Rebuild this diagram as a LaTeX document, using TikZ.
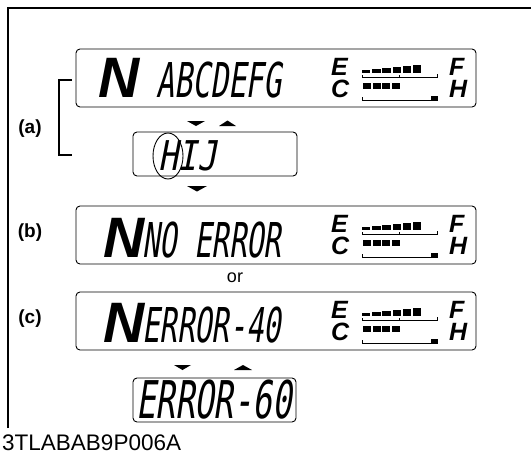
\documentclass[tikz,border=0pt]{standalone}
\usepackage{graphicx}
\usepackage{fontspec}
\usetikzlibrary{shapes.geometric}
\setmainfont{Liberation Sans}
\newfontfamily\lcdf[FakeSlant=0.24]{DejaVu Sans Mono}
\newcommand\lcdtxt[3]{\scalebox{#2}[1]{\fontsize{#1}{#1}\selectfont\lcdf #3}}
\newcommand\bigNf{\fontsize{57}{57}\selectfont\bfseries\itshape}
\tikzset{
  lcdbox/.style={draw, rounded corners=4pt, line width=0.9pt, inner sep=0pt},
  gl/.style={font=\fontsize{25}{25}\selectfont\bfseries\itshape, inner sep=0pt, anchor=base west},
  lcd/.style={inner sep=0pt, anchor=base west, text depth=0pt},
  lab/.style={font=\fontsize{19}{19}\selectfont\bfseries, inner sep=0pt},
  tri/.style={fill=black},
}
\newcommand\gaugepanel[2]{%
\begin{scope}[shift={(0,#1)}]
  \node[gl] (EC#2) at (331,97.5) {\shortstack[l]{E\\[1.5pt]C}};
  \node[gl] (FH#2) at (449,97.5) {\shortstack[l]{F\\[1.5pt]H}};
  \foreach \i in {0,...,5} \fill ({362+\i*10.2},73) rectangle ({370.3+\i*10.2},{69.5-\i*1.0});
  \draw[line width=1pt] (362,75)--(362,77.5)--(437,77.5)--(437,74);
  \draw[line width=1pt] (399,77.5)--(399,75);
  \foreach \i in {0,...,3} \fill ({363+\i*9.5},83) rectangle ({371+\i*9.5},89);
  \draw[line width=1pt] (362,97)--(362,100)--(437,100);
  \fill (431,96) rectangle (438,100.5);
\end{scope}}
\begin{document}
\begin{tikzpicture}[x=1pt,y=-1pt]
\useasboundingbox (0,0) rectangle (531,456);
% frame
\draw[line width=2pt] (8,428) -- (8,8) -- (531,8);
% panel boxes
\node[lcdbox, minimum width=400pt, minimum height=58pt] (pa) at (276,78) {};
\node[lcdbox, minimum width=400pt, minimum height=58pt] (pb) at (276,235) {};
\node[lcdbox, minimum width=400pt, minimum height=58pt] (pc) at (276,321) {};
\node[lcdbox, minimum width=164pt, minimum height=44pt] (hij) at (215,154) {};
\node[lcdbox, minimum width=163pt, minimum height=44pt] (e60) at (214.5,400) {};
% gauges
\gaugepanel{0}{a}
\gaugepanel{157}{b}
\gaugepanel{243}{c}
% lcd texts (big N + characters)
\node[lcd] (ta) at (98,97.5) {{\bigNf N}\hspace{17pt}\lcdtxt{48}{0.62}{ABCDEFG}};
\node[lcd] (thij) at (158,170) {\lcdtxt{41}{0.8}{HIJ}};
\node[lcd] (tb) at (103,257) {{\bigNf N}\hspace{-2pt}\lcdtxt{48}{0.6}{NO ERROR}};
\node[lcd] (tc) at (103,342) {{\bigNf N}\hspace{-2pt}\lcdtxt{48}{0.6}{ERROR-40}};
\node[lcd] (t60) at (136,418) {\lcdtxt{52}{0.62}{ERROR-60}};
% ellipse round H
\node[draw, ellipse, line width=0.9pt, minimum width=30pt, minimum height=46pt, inner sep=0pt] (ring) at (168,156) {};
% bracket
\coordinate (bt) at (72,80);
\coordinate (bb) at (72,155);
\draw[line width=1.2pt] (bt) -- (59,80) -- (59,155) -- (bb);
% labels
\node[lab] (la) at (30,129) {(a)};
\node[lab] (lb) at (30,233) {(b)};
\node[lab] (lc) at (30,319) {(c)};
\node[font=\fontsize{18}{18}\selectfont, inner sep=0pt] (or) at (235,278) {or};
\node[font=\fontsize{22.5}{22.5}\selectfont, inner sep=0pt, anchor=base west, text depth=0pt] (code) at (2,450) {3TLABAB9P006A};
% triangles
\fill[tri] (187,121) -- (205,121) -- (196,126) -- cycle;
\fill[tri] (219,126) -- (236,126) -- (227.5,120.5) -- cycle;
\fill[tri] (187,186) -- (207,186) -- (197,191.5) -- cycle;
\fill[tri] (174,365) -- (191,365) -- (182.5,370) -- cycle;
\fill[tri] (234,370) -- (252,370) -- (243,365) -- cycle;
\end{tikzpicture}
\end{document}
